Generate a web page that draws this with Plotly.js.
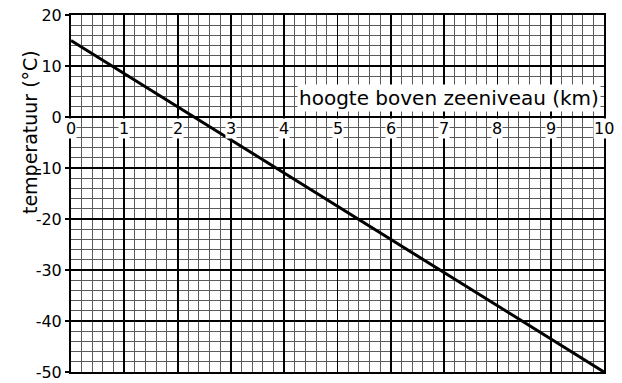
<!DOCTYPE html>
<html>
<head>
<meta charset="utf-8">
<script src="https://cdn.plot.ly/plotly-3.0.1.min.js"></script>
<style>html,body{margin:0;padding:0;background:#fff;}#chart{width:622px;height:383px;}</style>
</head>
<body>
<div id="chart"></div>
<script>
// Data
const heightKm = [0, 10];
const temperatureC = [15, -50];
const xTickValues = [0, 1, 2, 3, 4, 5, 6, 7, 8, 9, 10];
const xTickLabels = ["0", "1", "2", "3", "4", "5", "6", "7", "8", "9", "10"];
const yTickValues = [20, 10, 0, -10, -20, -30, -40, -50];
const yTickLabels = ["20", "10", "0", "-10", "-20", "-30", "-40", "-50"];
const xTitle = "hoogte boven zeeniveau (km)";
const yTitle = "temperatuur (°C)";

const font = "DejaVu Sans, Verdana, sans-serif";

// minor grid positions (graph paper: 5 subdivisions per major step)
const xMinor = [];
for (let i = 0; i <= 50; i++) xMinor.push(i / 5);
const yMinor = [];
for (let i = -25; i <= 10; i++) yMinor.push(i * 2);

const annotations = xTickValues.map((v, i) => ({
  x: v, y: 0, xref: "x", yref: "y",
  text: xTickLabels[i], showarrow: false,
  xanchor: "center", yanchor: "top", yshift: -1,
  bgcolor: "#fff", borderpad: 0,
  font: {family: font, size: 16, color: "#000"}
}));
annotations.push({
  x: 9.95, y: 1.0, xref: "x", yref: "y",
  text: xTitle, showarrow: false,
  xanchor: "right", yanchor: "bottom",
  bgcolor: "#fff", borderpad: 1,
  font: {family: font, size: 20, color: "#000"}
});
annotations.push({
  x: -0.077, y: 0.672, xref: "paper", yref: "paper",
  text: yTitle, showarrow: false, textangle: -90,
  xanchor: "center", yanchor: "middle",
  font: {family: font, size: 19, color: "#000"}
});

const data = [{
  x: heightKm, y: temperatureC, type: "scatter", mode: "lines",
  line: {color: "#000", width: 3}, hoverinfo: "skip"
}];

const layout = {
  width: 622, height: 383,
  margin: {l: 71, r: 18, t: 15, b: 11},
  paper_bgcolor: "#fff", plot_bgcolor: "#fff",
  showlegend: false,
  xaxis: {
    range: [0, 10], tickmode: "array", tickvals: xTickValues, showticklabels: false,
    showgrid: true, gridcolor: "#000", gridwidth: 1.8,
    minor: {tickmode: "array", tickvals: xMinor, showgrid: true, gridcolor: "#5a5a5a", gridwidth: 1, ticks: ""},
    showline: true, linecolor: "#000", linewidth: 1.8, mirror: true,
    zeroline: false, ticks: ""
  },
  yaxis: {
    range: [-50, 20], tickmode: "array", tickvals: yTickValues, ticktext: yTickLabels,
    tickfont: {family: font, size: 16, color: "#000"},
    showgrid: true, gridcolor: "#000", gridwidth: 1.8,
    minor: {tickmode: "array", tickvals: yMinor, showgrid: true, gridcolor: "#5a5a5a", gridwidth: 1, ticks: ""},
    showline: true, linecolor: "#000", linewidth: 2, mirror: true,
    zeroline: true, zerolinecolor: "#000", zerolinewidth: 2.2,
    ticks: "outside", ticklen: 4, tickwidth: 1.5, tickcolor: "#000"
  },
  annotations: annotations
};

Plotly.newPlot("chart", data, layout, {displayModeBar: false, staticPlot: true});
</script>
</body>
</html>
